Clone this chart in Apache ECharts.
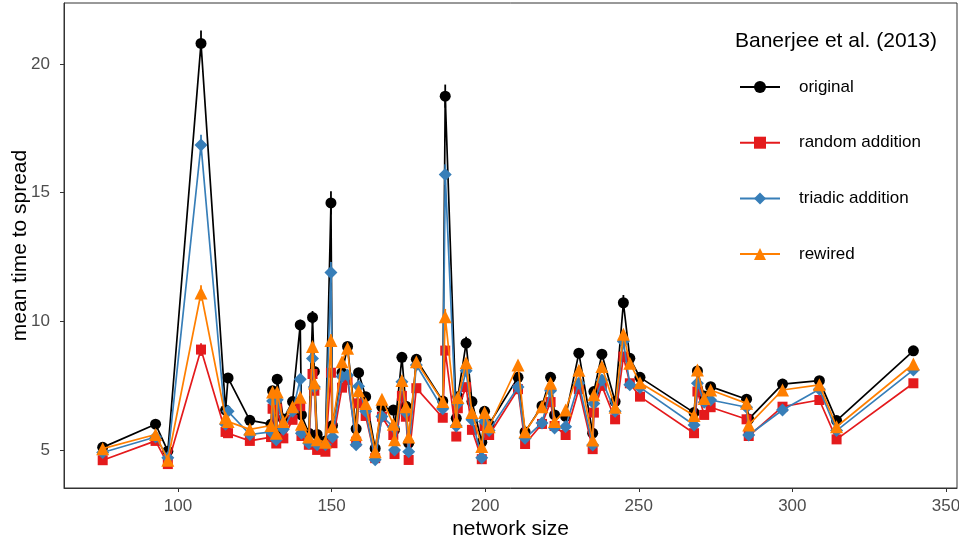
<!DOCTYPE html>
<html>
<head>
<meta charset="utf-8">
<script src="https://cdn.jsdelivr.net/npm/echarts@6/dist/echarts.min.js"></script>
<style>
  html, body { margin: 0; padding: 0; background: #fff; }
  #chart { width: 959px; height: 542px; }
</style>
</head>
<body>
<div id="chart"></div>
<script>
// network sizes (x) and mean time to spread per network model
const sizes = [75.5, 92.7, 96.7, 107.5, 115.5, 116.3, 123.4, 130.3, 130.8, 132.0,
  132.3, 134.3, 137.3, 139.8, 140.2, 142.6, 143.8, 144.4, 145.3, 148.0,
  149.8, 150.3, 153.4, 155.2, 158.0, 158.8, 161.1, 164.2, 166.4, 170.1,
  170.5, 172.9, 174.2, 175.1, 177.6, 186.2, 187.0, 190.6, 191.1, 193.8,
  195.7, 198.9, 199.8, 201.3, 210.7, 213.0, 218.5, 221.3, 222.6, 226.2,
  230.5, 235.0, 235.4, 238.0, 242.3, 245.0, 247.1, 250.4, 268.0, 269.1,
  271.3, 273.4, 285.1, 285.8, 296.8, 308.8, 314.4, 339.4]

const original = [5.1, 6.0, 4.95, 20.8, 6.55, 7.8, 6.15, 6.0, 7.3, 5.7,
  7.75, 6.2, 6.88, 9.86, 6.36, 5.65, 10.15, 8.05, 5.6, 5.35,
  14.6, 5.95, 8.0, 9.02, 5.82, 8.0, 7.07, 5.06, 6.66, 6.55,
  5.78, 8.6, 6.7, 5.26, 8.52, 6.9, 18.75, 6.23, 7.07, 9.15,
  6.88, 5.3, 6.5, 6.0, 7.82, 5.7, 6.71, 7.82, 6.36, 6.3,
  8.76, 5.65, 7.27, 8.72, 6.88, 10.72, 8.56, 7.82, 6.45, 8.07,
  7.1, 7.46, 6.97, 6.2, 7.56, 7.69, 6.14, 8.85]

const randomAdd = [4.6, 5.35, 4.45, 8.9, 5.7, 5.65, 5.35, 5.5, 6.6, 5.25,
  6.6, 5.45, 6.17, 6.7, 5.54, 5.2, 7.95, 7.3, 5.0, 4.93,
  8.0, 5.26, 7.42, 7.72, 5.32, 6.81, 6.32, 4.68, 6.29, 5.58,
  4.84, 7.1, 6.29, 4.61, 7.4, 6.25, 8.86, 5.52, 6.62, 7.44,
  5.78, 4.64, 5.93, 5.58, 7.36, 5.23, 6.01, 6.86, 5.93, 5.58,
  7.36, 5.03, 6.45, 7.49, 6.19, 8.63, 7.59, 7.07, 5.65, 7.27,
  6.36, 6.66, 6.19, 5.54, 6.68, 6.94, 5.41, 7.59]

const triadicAdd = [4.9, 5.5, 4.7, 16.85, 6.0, 6.5, 5.6, 5.7, 6.9, 5.4,
  6.95, 5.8, 6.5, 7.75, 5.65, 5.26, 8.55, 7.45, 5.2, 5.2,
  11.9, 5.5, 7.85, 7.9, 5.2, 7.47, 6.5, 4.62, 6.3, 5.9,
  5.0, 7.65, 6.45, 4.93, 8.3, 6.6, 15.7, 5.93, 6.8, 8.08,
  6.17, 4.7, 6.1, 5.75, 7.45, 5.45, 6.05, 7.3, 5.85, 5.9,
  7.59, 5.19, 6.8, 7.72, 6.5, 9.21, 7.53, 7.43, 5.97, 7.59,
  6.85, 6.94, 6.66, 5.58, 6.55, 7.36, 5.75, 8.11]

const rewired = [5.05, 5.6, 4.6, 11.1, 6.25, 6.1, 5.8, 5.95, 7.25, 5.65,
  7.25, 6.1, 6.68, 7.05, 6.0, 5.5, 9.02, 7.6, 5.4, 5.3,
  9.25, 5.9, 8.43, 8.95, 5.6, 7.3, 6.8, 4.93, 6.97, 6.0,
  5.4, 7.7, 6.68, 5.5, 8.43, 6.88, 10.18, 6.1, 7.04, 8.39,
  6.45, 5.13, 6.45, 5.9, 8.3, 5.71, 6.68, 7.59, 6.1, 6.55,
  8.1, 5.39, 7.14, 8.24, 6.66, 9.5, 8.37, 7.61, 6.34, 8.11,
  7.0, 7.33, 6.81, 5.97, 7.33, 7.53, 5.9, 8.34]

// visible error bars: [network size, half-width]
const originalErr = [[107.5, 0.5], [149.8, 0.45], [187.0, 0.45], [143.8, 0.25], [139.8, 0.2],
  [245.0, 0.3], [193.8, 0.25], [172.9, 0.2], [132.3, 0.2], [230.5, 0.15], [296.8, 0.2],
  [221.3, 0.15], [177.6, 0.12], [155.2, 0.15], [116.3, 0.12], [339.4, 0.1], [269.1, 0.1]]
const randomErr = [[107.5, 0.25], [187.0, 0.2], [149.8, 0.15]]
const triadicErr = [[107.5, 0.4], [149.8, 0.4], [187.0, 0.4], [143.8, 0.15]]
const rewiredErr = [[107.5, 0.3], [187.0, 0.3], [149.8, 0.25]]

const xTicks = [100, 150, 200, 250, 300, 350]
const yTicks = [5, 10, 15, 20]

const FONT = '"Liberation Sans", Arial, sans-serif'

function pairs(vals) {
  return sizes.map(function (s, i) { return [s, vals[i]] })
}

function errData(vals, errs) {
  let out = []
  for (let i = 0; i < errs.length; i++) {
    let idx = sizes.indexOf(errs[i][0])
    if (idx < 0) continue
    out.push([errs[i][0], vals[idx] - errs[i][1], vals[idx] + errs[i][1]])
  }
  return out
}

function lineSeries(name, vals, color, symbol, size, z) {
  return {
    name: name,
    type: 'line',
    data: pairs(vals),
    symbol: symbol,
    symbolSize: size,
    showAllSymbol: true,
    color: color,
    lineStyle: { color: color, width: 1.7 },
    itemStyle: { color: color },
    z: z,
    animation: false,
  }
}

function errSeries(vals, errs, color, z) {
  return {
    type: 'custom',
    data: errData(vals, errs),
    z: z,
    silent: true,
    animation: false,
    renderItem: function (params, api) {
      let p1 = api.coord([api.value(0), api.value(1)])
      let p2 = api.coord([api.value(0), api.value(2)])
      return {
        type: 'line',
        shape: { x1: p1[0], y1: p1[1], x2: p2[0], y2: p2[1] },
        style: { stroke: color, lineWidth: 1.8 },
      }
    },
  }
}

var myChart = echarts.init(document.getElementById('chart'))
var option = {
  backgroundColor: '#fff',
  animation: false,
  title: {
    text: 'Banerjee et al. (2013)',
    left: 730,
    top: 26,
    textStyle: { fontFamily: FONT, fontSize: 21, fontWeight: 'normal', color: '#000' },
  },
  legend: {
    orient: 'vertical',
    left: 734,
    top: 73.5,
    itemWidth: 40,
    itemHeight: 15,
    itemGap: 38.7,
    textStyle: { fontFamily: FONT, fontSize: 17, color: '#000', padding: [0, 0, 0, 14] },
    data: ['original', 'random addition', 'triadic addition', 'rewired'],
  },
  grid: {
    left: 64,
    right: 2,
    top: 3,
    bottom: 54,
    outerBoundsMode: 'none',
    containLabel: false,
    show: true,
    borderColor: '#333',
    borderWidth: 1,
  },
  xAxis: {
    type: 'value',
    min: 62.9,
    max: 353.6,
    name: 'network size',
    nameLocation: 'middle',
    nameGap: 31,
    nameMoveOverlap: false,
    nameTextStyle: { fontFamily: FONT, fontSize: 21, color: '#000' },
    axisLine: { show: true, lineStyle: { color: '#333' } },
    axisTick: { show: true, length: 4, customValues: xTicks, lineStyle: { color: '#333' } },
    axisLabel: { customValues: xTicks, fontFamily: FONT, fontSize: 17, color: '#4d4d4d', margin: 10 },
    splitLine: { show: false },
  },
  yAxis: {
    type: 'value',
    min: 3.52,
    max: 22.37,
    name: 'mean time to spread',
    nameLocation: 'middle',
    nameGap: 33,
    nameMoveOverlap: false,
    nameTextStyle: { fontFamily: FONT, fontSize: 21, color: '#000' },
    axisLine: { show: true, lineStyle: { color: '#333' } },
    axisTick: { show: true, length: 4, customValues: yTicks, lineStyle: { color: '#333' } },
    axisLabel: { customValues: yTicks, fontFamily: FONT, fontSize: 17, color: '#4d4d4d', margin: 14 },
    splitLine: { show: false },
  },
  series: [
    errSeries(original, originalErr, '#000000', 2),
    lineSeries('original', original, '#000000', 'circle', 11, 3),
    errSeries(randomAdd, randomErr, '#E41A1C', 4),
    lineSeries('random addition', randomAdd, '#E41A1C', 'rect', 10, 5),
    errSeries(triadicAdd, triadicErr, '#377EB8', 6),
    lineSeries('triadic addition', triadicAdd, '#377EB8', 'diamond', 13, 7),
    errSeries(rewired, rewiredErr, '#FF7F00', 8),
    lineSeries('rewired', rewired, '#FF7F00', 'triangle', 13, 9),
  ],
}
myChart.setOption(option)
</script>
</body>
</html>
